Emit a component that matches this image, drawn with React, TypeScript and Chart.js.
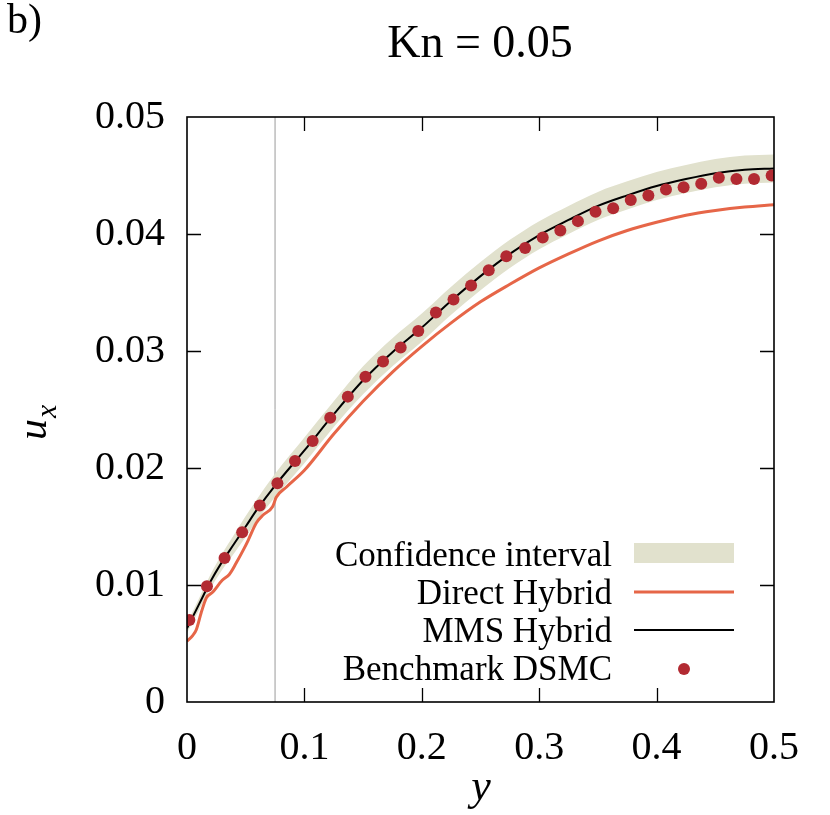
import React, { useEffect, useRef } from "react";
import { Chart, registerables } from "chart.js";

Chart.register(...registerables);

// ---- Data ----
const xTickLabels = ["0", "0.1", "0.2", "0.3", "0.4", "0.5"];
const yTickLabels = ["0", "0.01", "0.02", "0.03", "0.04", "0.05"];
const legendLabels = ["Confidence interval", "Direct Hybrid", "MMS Hybrid", "Benchmark DSMC"];
const titleText = "Kn = 0.05";
const panelLabel = "b)";

// Benchmark DSMC
const dsmcY = [0.002, 0.017, 0.032, 0.047, 0.062, 0.077, 0.092, 0.107, 0.122, 0.137, 0.152, 0.167, 0.182, 0.197, 0.212, 0.227, 0.242, 0.257, 0.272, 0.288, 0.303, 0.318, 0.333, 0.348, 0.363, 0.378, 0.393, 0.408, 0.423, 0.438, 0.453, 0.468, 0.483, 0.498];
const dsmcU = [0.0070, 0.0099, 0.0123, 0.0145, 0.0168, 0.0187, 0.0206, 0.0223, 0.0243, 0.0261, 0.0278, 0.0291, 0.0303, 0.0317, 0.0333, 0.0344, 0.0356, 0.0369, 0.0381, 0.0388, 0.0397, 0.0403, 0.0411, 0.0419, 0.0422, 0.0429, 0.0433, 0.0438, 0.0440, 0.0443, 0.0448, 0.0447, 0.0447, 0.0450];

// MMS Hybrid and its confidence interval
const mmsY = [0, 0.01, 0.02, 0.03, 0.04, 0.05, 0.06, 0.075, 0.1, 0.125, 0.15, 0.175, 0.2, 0.225, 0.25, 0.275, 0.3, 0.325, 0.35, 0.375, 0.4, 0.425, 0.45, 0.475, 0.5];
const mmsU = [0.0063, 0.0083, 0.0103, 0.0120, 0.0135, 0.0150, 0.0165, 0.0185, 0.0215, 0.0246, 0.0275, 0.0299, 0.0320, 0.0343, 0.0364, 0.0383, 0.0399, 0.0412, 0.0424, 0.0433, 0.0441, 0.0447, 0.0452, 0.0455, 0.0456];
const ciUpper = [0.0067, 0.0088, 0.0109, 0.0127, 0.0143, 0.0159, 0.0174, 0.0195, 0.0226, 0.0257, 0.0287, 0.0311, 0.0332, 0.0355, 0.0376, 0.0395, 0.0411, 0.0424, 0.0436, 0.0445, 0.0453, 0.0459, 0.0464, 0.0467, 0.0468];
const ciLower = [0.0059, 0.0078, 0.0097, 0.0113, 0.0127, 0.0141, 0.0156, 0.0175, 0.0204, 0.0235, 0.0263, 0.0287, 0.0308, 0.0331, 0.0352, 0.0371, 0.0387, 0.0400, 0.0412, 0.0421, 0.0429, 0.0435, 0.0440, 0.0443, 0.0444];

// Direct Hybrid
const directY = [0, 0.005, 0.008, 0.012, 0.0165, 0.022, 0.030, 0.036, 0.042, 0.048, 0.052, 0.059, 0.065, 0.073, 0.076, 0.085, 0.1, 0.125, 0.15, 0.175, 0.2, 0.225, 0.25, 0.275, 0.3, 0.325, 0.35, 0.375, 0.4, 0.425, 0.45, 0.475, 0.5];
const directU = [0.0052, 0.0057, 0.0062, 0.0076, 0.0089, 0.0094, 0.0104, 0.0109, 0.0119, 0.0130, 0.0138, 0.0153, 0.0160, 0.0167, 0.0175, 0.0184, 0.0198, 0.0229, 0.0257, 0.0282, 0.0304, 0.0324, 0.0342, 0.0357, 0.0371, 0.0383, 0.0394, 0.0403, 0.0410, 0.0416, 0.0420, 0.0423, 0.0425];

// interface position marker
const interfaceY = [0.075, 0.075];
const interfaceU = [0, 0.05];

const COLORS = {
  band: "rgb(225,225,205)",
  direct: "rgb(230,102,72)",
  mms: "#000000",
  dsmc: "rgb(178,42,50)",
  marker: "#9a9a9a",
};

const SERIF = '"Liberation Serif", "DejaVu Serif", serif';

const zip = (xs: number[], ys: number[]) => xs.map((x, i) => ({ x, y: ys[i] }));

const decorPlugin = {
  id: "decor",
  afterDraw(chart: any) {
    const ctx = chart.ctx as CanvasRenderingContext2D;
    const { left, right, top, bottom } = chart.chartArea;
    const xs = chart.scales.x;
    const ys = chart.scales.y;
    ctx.save();
    // frame
    ctx.strokeStyle = "#000";
    ctx.lineWidth = 1.6;
    ctx.strokeRect(left, top, right - left, bottom - top);
    // inward ticks on all sides
    const tl = 14;
    ctx.lineWidth = 1.3;
    ctx.beginPath();
    for (let i = 1; i < xTickLabels.length - 1; i++) {
      const px = Math.round(xs.getPixelForValue(i * 0.1)) + 0.5;
      ctx.moveTo(px, bottom);
      ctx.lineTo(px, bottom - tl);
      ctx.moveTo(px, top);
      ctx.lineTo(px, top + tl);
    }
    for (let i = 1; i < yTickLabels.length - 1; i++) {
      const py = Math.round(ys.getPixelForValue(i * 0.01)) + 0.5;
      ctx.moveTo(left, py);
      ctx.lineTo(left + tl, py);
      ctx.moveTo(right, py);
      ctx.lineTo(right - tl, py);
    }
    ctx.stroke();

    // legend
    const textRight = 612;
    const symL = 634;
    const symR = 734;
    const baselines = [566, 604, 642, 680];
    ctx.fillStyle = "#000";
    ctx.font = `35px ${SERIF}`;
    ctx.textAlign = "right";
    ctx.textBaseline = "alphabetic";
    legendLabels.forEach((t, i) => ctx.fillText(t, textRight, baselines[i]));
    // band swatch
    ctx.fillStyle = COLORS.band;
    ctx.fillRect(symL, baselines[0] - 23, symR - symL, 20);
    // direct line
    ctx.strokeStyle = COLORS.direct;
    ctx.lineWidth = 3;
    ctx.beginPath();
    ctx.moveTo(symL, baselines[1] - 12);
    ctx.lineTo(symR, baselines[1] - 12);
    ctx.stroke();
    // mms line
    ctx.strokeStyle = COLORS.mms;
    ctx.lineWidth = 2;
    ctx.beginPath();
    ctx.moveTo(symL, baselines[2] - 12);
    ctx.lineTo(symR, baselines[2] - 12);
    ctx.stroke();
    // dsmc dot
    ctx.fillStyle = COLORS.dsmc;
    ctx.beginPath();
    ctx.arc((symL + symR) / 2, baselines[3] - 11, 6, 0, Math.PI * 2);
    ctx.fill();

    // title and panel label
    ctx.fillStyle = "#000";
    ctx.textAlign = "center";
    ctx.font = `46px ${SERIF}`;
    ctx.fillText(titleText, 480, 57);
    ctx.textAlign = "left";
    ctx.font = `42px ${SERIF}`;
    ctx.fillText(panelLabel, 7, 33);

    // x axis title
    ctx.textAlign = "center";
    ctx.font = `italic 44px ${SERIF}`;
    ctx.fillText("y", 481, 800);

    // y axis title u_x
    ctx.save();
    ctx.translate(46, 440);
    ctx.rotate(-Math.PI / 2);
    ctx.textAlign = "left";
    ctx.font = `italic 42px ${SERIF}`;
    ctx.fillText("u", 0, 0);
    ctx.font = `italic 30px ${SERIF}`;
    ctx.fillText("x", 22, 10);
    ctx.restore();

    ctx.restore();
  },
};

export default function App() {
  const ref = useRef<HTMLCanvasElement | null>(null);

  useEffect(() => {
    document.body.style.margin = "0";
    const canvas = ref.current;
    if (!canvas) return;
    const chart = new Chart(canvas, {
      type: "line",
      data: {
        datasets: [
          {
            label: legendLabels[3],
            data: zip(dsmcY, dsmcU),
            showLine: false,
            pointRadius: 6,
            pointBackgroundColor: COLORS.dsmc,
            pointBorderWidth: 0,
            order: 0,
          },
          {
            label: legendLabels[2],
            data: zip(mmsY, mmsU),
            borderColor: COLORS.mms,
            borderWidth: 2,
            pointRadius: 0,
            cubicInterpolationMode: "monotone",
            order: 1,
          },
          {
            label: legendLabels[1],
            data: zip(directY, directU),
            borderColor: COLORS.direct,
            borderWidth: 3,
            pointRadius: 0,
            cubicInterpolationMode: "monotone",
            order: 2,
          },
          {
            label: legendLabels[0],
            data: zip(mmsY, ciUpper),
            borderWidth: 0,
            borderColor: "rgba(0,0,0,0)",
            backgroundColor: COLORS.band,
            pointRadius: 0,
            fill: "+1",
            cubicInterpolationMode: "monotone",
            order: 3,
          },
          {
            label: "ci-lower",
            data: zip(mmsY, ciLower),
            borderWidth: 0,
            borderColor: "rgba(0,0,0,0)",
            pointRadius: 0,
            fill: false,
            cubicInterpolationMode: "monotone",
            order: 4,
          },
          {
            label: "interface",
            data: zip(interfaceY, interfaceU),
            borderColor: COLORS.marker,
            borderWidth: 1,
            pointRadius: 0,
            order: 5,
          },
        ],
      },
      options: {
        animation: false,
        responsive: false,
        layout: { padding: { top: 117, right: 56, left: 0, bottom: 0 } },
        plugins: {
          legend: { display: false },
          title: { display: false },
          tooltip: { enabled: false },
        },
        scales: {
          x: {
            type: "linear",
            min: 0,
            max: 0.5,
            afterFit: (s: any) => {
              s.height = 113;
            },
            grid: { display: false, drawTicks: false },
            border: { display: false },
            ticks: {
              stepSize: 0.1,
              padding: 22,
              color: "#000",
              font: { family: SERIF, size: 40 },
              maxRotation: 0,
              callback: (_v: any, i: number) => xTickLabels[i],
            },
          },
          y: {
            type: "linear",
            min: 0,
            max: 0.05,
            afterFit: (s: any) => {
              s.width = 187;
            },
            grid: { display: false, drawTicks: false },
            border: { display: false },
            ticks: {
              stepSize: 0.01,
              padding: 22,
              color: "#000",
              font: { family: SERIF, size: 40 },
              callback: (_v: any, i: number) => yTickLabels[i],
            },
          },
        },
      },
      plugins: [decorPlugin],
    });
    return () => chart.destroy();
  }, []);

  return (
    <div style={{ width: 830, height: 815 }}>
      <canvas ref={ref} width={830} height={815} style={{ display: "block" }} />
    </div>
  );
}
